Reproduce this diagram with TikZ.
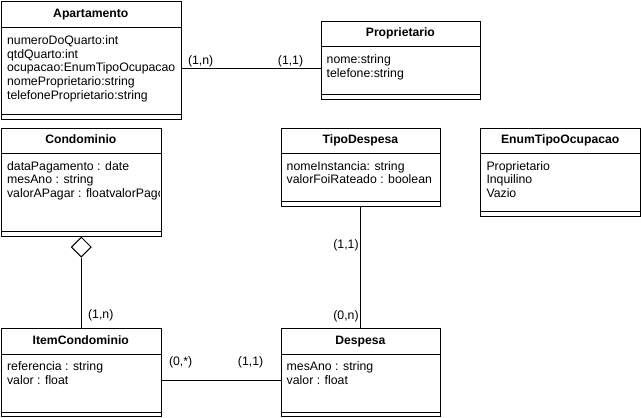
\documentclass[tikz,border=0pt]{standalone}
\usepackage{fontspec}
\setmainfont{Liberation Sans}
\usetikzlibrary{shapes.geometric}
\tikzset{
  cls/.style={draw=black, line width=1pt, inner sep=0pt, anchor=north west},
  sepline/.style={draw=black, line width=1pt},
  ttl/.style={font=\bfseries\fontsize{12.2}{14}\selectfont, inner sep=0pt, text height=8.6pt, text depth=2.5pt},
  attrs/.style={font=\fontsize{12.3}{13.8}\selectfont, inner sep=0pt, anchor=north west, align=left},
  card/.style={font=\fontsize{12.3}{14}\selectfont, inner sep=0pt, text height=8.6pt, text depth=2.5pt},
  conn/.style={draw=black, line width=1pt},
  aggr/.style={draw=black, line width=1pt, diamond, inner sep=0pt, minimum width=20pt, minimum height=20pt, anchor=north, fill=white},
}
\newcommand\umlclass[8]{%
  \node[cls, minimum width=#4pt, minimum height=#5pt] (#1) at (#2,#3) {};
  \draw[sepline] (#2,#3+#6) -- ++(#4,0);
  \draw[sepline] (#2,#3+#5-4) -- ++(#4,0);
  \node[ttl] (#1-t) at (#2+#4/2,#3+#6/2) {#7};
  \begin{scope}
    \clip (#2,#3) rectangle (#2+#4-1.5,#3+#5);
    \node[attrs] (#1-a) at (#2+6,#3+#6+6.3) {\rule{0pt}{10pt}#8};
  \end{scope}
}
\begin{document}
\begin{tikzpicture}[x=1pt,y=-1pt]
\useasboundingbox (-0.4,-0.4) rectangle (641.4,417.4);

\umlclass{apt}{0.5}{0.5}{180}{118}{27}{Apartamento}{numeroDoQuarto:int\\qtdQuarto:int\\ocupacao:EnumTipoOcupacao\\nomeProprietario:string\\telefoneProprietario:string}
\umlclass{prop}{320.5}{20.5}{160}{78}{26}{Proprietario}{nome:string\\telefone:string}
\umlclass{cond}{0.5}{127.5}{160}{108}{26}{Condominio}{dataPagamento : date\\mesAno : string\\valorAPagar : floatvalorPago}
\umlclass{tipo}{280.5}{127.5}{160}{78}{26}{TipoDespesa}{nomeInstancia: string\\valorFoiRateado : boolean}
\umlclass{enum}{480.5}{127.5}{160}{88}{26}{EnumTipoOcupacao}{Proprietario\\Inquilino\\Vazio}
\umlclass{item}{0.5}{328.5}{160}{88}{26}{ItemCondominio}{referencia : string\\valor : float}
\umlclass{desp}{280.5}{328.5}{160}{88}{26}{Despesa}{mesAno : string\\valor : float}

\coordinate (ya) at (0,68.5);
\coordinate (yb) at (0,380.5);

\draw[conn] (apt.east |- ya) -- (prop.west |- ya);
\node[aggr] (dia) at (cond.south) {};
\draw[conn] (dia.south) -- (item.north);
\draw[conn] (tipo.south) -- (desp.north);
\draw[conn] (item.east |- yb) -- (desp.west |- yb);

\node[card] (c1) at (200.5,61) {(1,n)};
\node[card] (c2) at (290.5,61) {(1,1)};
\node[card] (c3) at (100.5,315) {(1,n)};
\node[card] (c4) at (346,245) {(1,1)};
\node[card] (c5) at (346,316) {(0,n)};
\node[card] (c6) at (180.5,363) {(0,*)};
\node[card] (c7) at (250.5,363) {(1,1)};
\end{tikzpicture}
\end{document}
